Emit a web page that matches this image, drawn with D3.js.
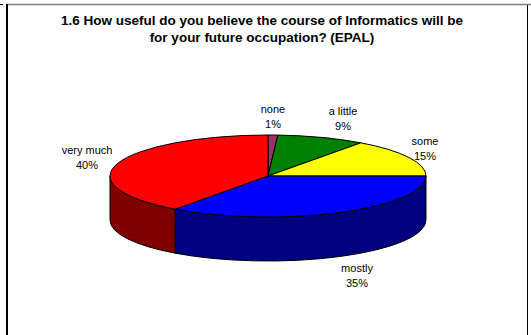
<!DOCTYPE html>
<html>
<head>
<meta charset="utf-8">
<script src="https://cdn.jsdelivr.net/npm/d3@7"></script>
<style>
  html, body { margin: 0; padding: 0; background: #fff; }
  svg { display: block; font-family: "Liberation Sans", Arial, sans-serif; }
</style>
</head>
<body>
<svg id="chart" width="531" height="335"></svg>
<script>
// Survey answers, in drawing order (clockwise from 12 o'clock)
const categories = ["none", "a little", "some", "mostly", "very much"];
const values = [1, 9, 15, 35, 40];
const topColors = ["#993366", "#008000", "#FFFF00", "#0000FF", "#FF0000"];
const sideColors = ["#4d1a33", "#004000", "#808000", "#000080", "#800000"];
// Label anchor points (centre of the two-line label)
const labelPos = [[273, 117], [343, 119], [425, 149], [357, 276], [87, 158]];
const titleLines = [
  "1.6 How useful do you believe the course of Informatics will be",
  "for your future occupation? (EPAL)"
];

const svg = d3.select("#chart");

// Frame of the chart area
svg.append("line").attr("x1", 0).attr("x2", 3).attr("y1", 4.5).attr("y2", 4.5)
  .attr("stroke", "#000").attr("stroke-width", 1);
svg.append("line").attr("x1", 6).attr("x2", 531).attr("y1", 4.5).attr("y2", 4.5)
  .attr("stroke", "#808080").attr("stroke-width", 1.5);
svg.append("line").attr("x1", 7).attr("x2", 7).attr("y1", 4).attr("y2", 335)
  .attr("stroke", "#000").attr("stroke-width", 2);
svg.append("line").attr("x1", 527.5).attr("x2", 527.5).attr("y1", 5).attr("y2", 335)
  .attr("stroke", "#000").attr("stroke-width", 1);

// Title
svg.append("g").selectAll("text").data(titleLines).join("text")
  .attr("x", 262).attr("y", (d, i) => 25 + i * 17)
  .attr("text-anchor", "middle")
  .attr("font-size", "13.5px").attr("font-weight", "bold")
  .attr("fill", "#000")
  .text(d => d);

// Pie geometry (elliptical, with a visible front wall)
const cx = 268, cy = 176, rx = 158, ry = 41, depth = 44;
const pt = (a, dy = 0) => [cx + rx * Math.sin(a), cy - ry * Math.cos(a) + dy];

const pie = d3.pie().sort(null).value(d => d)
  .startAngle(0).endAngle(2 * Math.PI);
const arcs = pie(values);

// Front walls: only the part between 3 o'clock and 9 o'clock is visible
const walls = svg.append("g");
arcs.forEach((d, i) => {
  const a0 = Math.max(d.startAngle, Math.PI / 2);
  const a1 = Math.min(d.endAngle, 3 * Math.PI / 2);
  if (a1 <= a0) return;
  const p0 = pt(a0), p1 = pt(a1), q1 = pt(a1, depth), q0 = pt(a0, depth);
  const path = `M${p0}A${rx},${ry} 0 0 1 ${p1}L${q1}A${rx},${ry} 0 0 0 ${q0}Z`;
  walls.append("path").attr("d", path)
    .attr("fill", sideColors[i])
    .attr("stroke", "#000").attr("stroke-width", 1)
    .attr("stroke-linejoin", "round");
});

// Top faces
const tops = svg.append("g");
arcs.forEach((d, i) => {
  const p0 = pt(d.startAngle), p1 = pt(d.endAngle);
  const large = d.endAngle - d.startAngle > Math.PI ? 1 : 0;
  const path = `M${cx},${cy}L${p0}A${rx},${ry} 0 ${large} 1 ${p1}Z`;
  tops.append("path").attr("d", path)
    .attr("fill", topColors[i])
    .attr("stroke", "#000").attr("stroke-width", 1)
    .attr("stroke-linejoin", "round");
});

// Category and percentage labels
const total = d3.sum(values);
const labels = svg.append("g").attr("font-size", "11px").attr("fill", "#000")
  .attr("text-anchor", "middle");
arcs.forEach((d, i) => {
  const [x, y] = labelPos[i];
  const pct = Math.round(d.value / total * 100) + "%";
  labels.append("text").attr("x", x).attr("y", y - 4).text(categories[i]);
  labels.append("text").attr("x", x).attr("y", y + 11).text(pct);
});
</script>
</body>
</html>
